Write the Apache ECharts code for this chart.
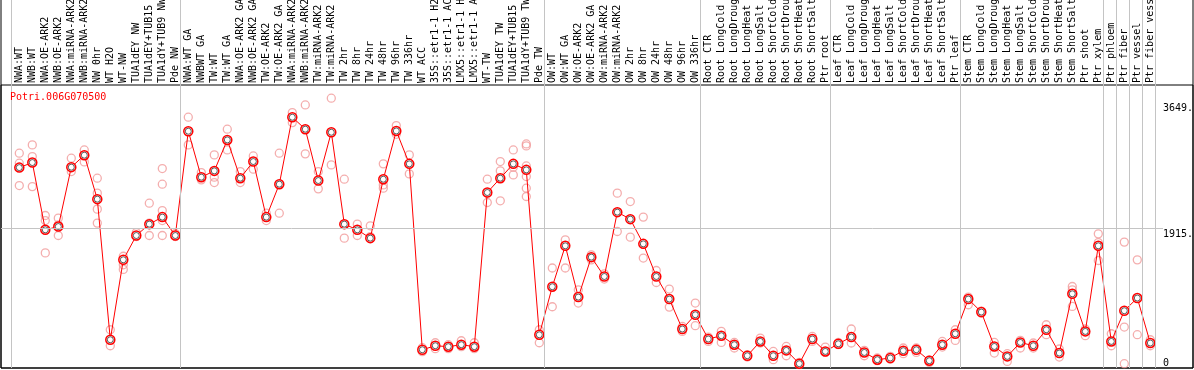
<!DOCTYPE html>
<html><head><meta charset="utf-8">
<script src="https://cdn.jsdelivr.net/npm/echarts@6/dist/echarts.min.js"></script>
<style>html,body{margin:0;padding:0;background:#fff}#c{width:1194px;height:370px}</style>
</head><body><div id="c"></div>
<script>
const titleText = 'Potri.006G070500';
const categories = ['NWA:WT','NWB:WT','NWA:OE-ARK2','NWB:OE-ARK2','NWA:miRNA-ARK2','NWB:miRNA-ARK2','NW 0hr','WT H2O','WT-NW','TUA1dEY NW','TUA1dEY+TUB15','TUA1dY+TUB9 NW','Pde NW',
'NWA:WT GA','NWBWT GA','TW:WT','TW:WT GA','NWA:OE-ARK2 GA','NWB:OE-ARK2 GA','TW:OE-ARK2','TW:OE-ARK2 GA','NWA:miRNA-ARK2','NWB:miRNA-ARK2','TW:miRNA-ARK2','TW:miRNA-ARK2','TW 2hr','TW 8hr','TW 24hr','TW 48hr','TW 96hr','TW 336hr','WT ACC','35S::etr1-1 H2','35S::etr1-1 AC','LMX5::etr1-1 H','LMX5::etr1-1 A','WT-TW','TUA1dEY TW','TUA1dEY+TUB15','TUA1dY+TUB9 TW','Pde TW',
'OW:WT','OW:WT GA','OW:OE-ARK2','OW:OE-ARK2 GA','OW:miRNA-ARK2','OW:miRNA-ARK2','OW 2hr','OW 8hr','OW 24hr','OW 48hr','OW 96hr','OW 336hr',
'Root CTR','Root LongCold','Root LongDroug','Root LongHeat','Root LongSalt','Root ShortCold','Root ShortDrou','Root ShortHeat','Root ShortSalt','Ptr root',
'Leaf CTR','Leaf LongCold','Leaf LongDroug','Leaf LongHeat','Leaf LongSalt','Leaf ShortCold','Leaf ShortDrou','Leaf ShortHeat','Leaf ShortSalt','Ptr leaf',
'Stem CTR','Stem LongCold','Stem LongDroug','Stem LongHeat','Stem LongSalt','Stem ShortCold','Stem ShortDrou','Stem ShortHeat','Stem ShortSalt','Ptr shoot','Ptr xylem',
'Ptr phloem','Ptr fiber','Ptr vessel','Ptr fiber vessel'];
const means = [2744,2813,1892,1937,2750,2914,2312,387,1482,1814,1970,2066,1814,
3242,2613,2699,3123,2599,2827,2066,2517,3434,3270,2567,3228,1970,1892,1778,2585,3246,2795,250,305,292,319,292,2403,2599,2795,2713,455,
1113,1673,971,1518,1253,2134,2038,1700,1253,944,534,729,
397,442,319,168,364,168,241,59,397,227,
332,424,213,114,137,237,250,100,319,469,
944,766,295,159,350,305,524,205,1016,501,1673,
364,784,958,342];
const replicates = [[2941,2804,2498],[3055,2895,2484],[2088,2019,1576],[2052,1960,1814],[2873,2690],[2986,2822],[2599,2394,2175,1984],[524,305],[1530,1413,1350],[1855,1800],[2257,1984,1814],[2731,2517,2156,2019,1814],[1840,1800],
[3434,3055],[2676,2576],[2918,2613,2539],[3270,2986],[2690,2539],[2904,2722],[2120,2019],[2941,2120],[3497,3360],[3602,2932],[2690,2453],[3694,2781],[2585,1778],[1970,1814],[1947,1800],[2795,2507,2462],[3319,3200],[2918,2658],[278,223],[346,264],[319,264],[373,292],[346,264],[2585,2266],[2827,2699,2289],[2986,2750,2644],[3068,3041,2767,2621,2462,2348],[524,346],
[1369,839],[1755,1369],[1071,889],[1550,1481],[1290,1218],[2394,1869],[2279,1792],[2066,1505],[1335,1171],[1081,834],[569,501],[889,579],
[424,364],[501,350],[350,274],[182,150],[410,342],[227,114],[295,168],[77,45],[432,364],[287,213],
[350,320],[534,342],[241,168],[137,100],[159,120],[274,196],[274,213],[77,110],[364,287],[524,378],
[971,866],[780,750],[350,205],[196,90],[378,274],[342,274],[592,456],[260,150],[1116,1071,843],[534,442],[1837,1718,1472],
[469,305],[1724,561,59],[1481,456],[387,305]];
const yTickValues = [0, 1915, 3649];
const yTickLabels = ['0', '1915.', '3649.'];
const gridLineValue = 1915;
const groupStarts = [0, 13, 41, 53, 63, 73, 84, 85, 86, 87, 88];

const FONT = 'DejaVu Sans Mono';
const XMIN = -1.4077, XMAX = 90.2846, YMAX = 3875;

const meanPts = means.map((v, i) => [i, v]);
const repPts = [];
replicates.forEach((arr, i) => arr.forEach(v => repPts.push([i, v])));

const chart = echarts.init(document.getElementById('c'), null, {renderer: 'canvas'});
chart.setOption({
  animation: false,
  backgroundColor: '#fff',
  title: {text: titleText, left: 10, top: 92, padding: 0,
    textStyle: {fontFamily: FONT, fontSize: 10, fontWeight: 'normal', color: '#ff0000'}},
  grid: [
    {left: 1, right: 1, top: -2, bottom: 2, show: true, borderColor: '#000', borderWidth: 1, backgroundColor: 'transparent', containLabel: false, outerBoundsMode: 'none'},
    {left: 1, right: 1, top: 85, bottom: 2, show: true, borderColor: '#000', borderWidth: 1, backgroundColor: 'transparent', containLabel: false, outerBoundsMode: 'none'},
    {left: 12.8, width: 1144, top: 85, bottom: 2, containLabel: false, outerBoundsMode: 'none'}
  ],
  xAxis: [
    {gridIndex: 0, type: 'value', min: XMIN, max: XMAX, show: false},
    {gridIndex: 1, type: 'value', min: XMIN, max: XMAX, show: false},
    {gridIndex: 2, type: 'category', data: categories, position: 'top', boundaryGap: true,
      axisLine: {show: false}, axisTick: {show: false}, splitLine: {show: false},
      axisLabel: {rotate: 90, interval: 0, margin: 2, fontFamily: FONT, fontSize: 10, color: '#000'}}
  ],
  yAxis: [
    {gridIndex: 0, type: 'value', min: 0, max: 1, show: false},
    {gridIndex: 1, type: 'value', min: 0, max: YMAX, position: 'right', z: 10,
      axisLine: {show: false}, axisTick: {show: false}, splitLine: {show: false},
      axisLabel: {customValues: yTickValues, inside: true, margin: 30, align: 'left',
        fontFamily: FONT, fontSize: 10, color: '#000',
        formatter: function (v) {
          const k = yTickValues.indexOf(v);
          const t = k >= 0 ? yTickLabels[k] : '';
          return v === 0 ? '{z|' + t + '}' : '{n|' + t + '}';
        },
        rich: {
          n: {fontFamily: FONT, fontSize: 10, color: '#000', lineHeight: 12, padding: [13, 0, 0, 0]},
          z: {fontFamily: FONT, fontSize: 10, color: '#000', lineHeight: 12, padding: [0, 0, 10, 0]}
        }}},
    {gridIndex: 2, type: 'value', show: false}
  ],
  series: [
    {type: 'line', xAxisIndex: 0, yAxisIndex: 0, data: [], silent: true,
      markLine: {symbol: 'none', silent: true, label: {show: false},
        lineStyle: {color: '#c4c4c4', width: 1, type: 'solid'},
        data: groupStarts.map(b => ({xAxis: b - 0.63}))}},
    {type: 'scatter', xAxisIndex: 1, yAxisIndex: 1, data: repPts, symbol: 'circle', symbolSize: 8, z: 2,
      itemStyle: {color: 'rgba(0,0,0,0)', borderColor: '#f19a9a', borderWidth: 1.3},
      markLine: {symbol: 'none', silent: true, label: {show: false},
        lineStyle: {color: '#c4c4c4', width: 1, type: 'solid'},
        data: [[{coord: [XMIN, gridLineValue]}, {coord: [87.98, gridLineValue]}]]}},
    {type: 'line', xAxisIndex: 1, yAxisIndex: 1, data: meanPts, symbol: 'circle', symbolSize: 9, showSymbol: true, z: 3,
      lineStyle: {color: '#ff0000', width: 1},
      itemStyle: {color: '#fff', borderColor: '#ff0000', borderWidth: 1.5}},
    {type: 'scatter', xAxisIndex: 1, yAxisIndex: 1, data: meanPts, symbol: 'circle', symbolSize: 6, z: 4,
      itemStyle: {color: 'rgba(0,0,0,0)', borderColor: '#000', borderWidth: 0.9, opacity: 0.7}}
  ]
});
</script></body></html>
